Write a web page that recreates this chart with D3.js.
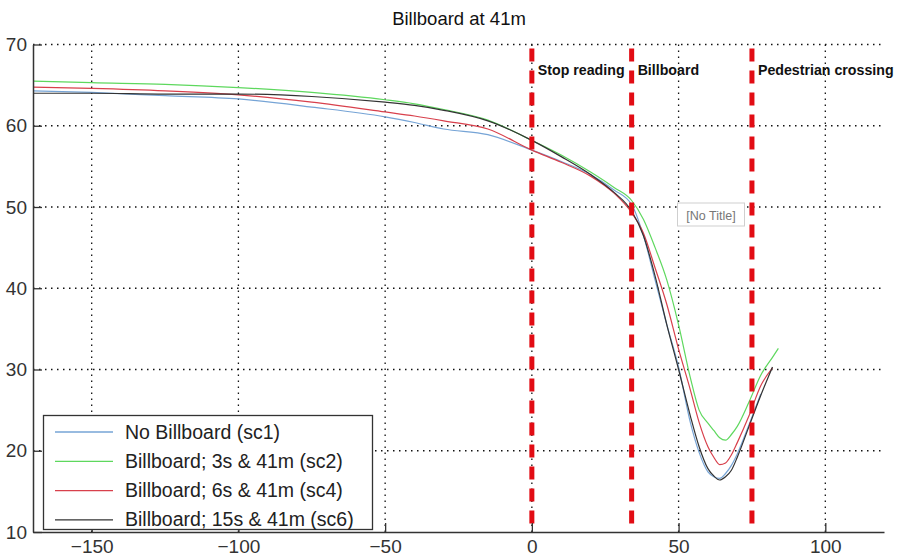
<!DOCTYPE html>
<html>
<head>
<meta charset="utf-8">
<script src="https://cdn.jsdelivr.net/npm/d3@7"></script>
<style>
  html, body { margin: 0; padding: 0; background: #fff; }
  svg { display: block; font-family: "Liberation Sans", Arial, sans-serif; }
</style>
</head>
<body>
<svg id="chart" width="897" height="560"></svg>
<script>
// distance to billboard (m), shared by all series
const distance = [-170, -150, -125, -100, -75, -50, -40, -30, -15, 0, 10, 20, 28, 34, 38, 42, 46, 50, 54, 57, 60, 62, 64, 66, 68, 70, 74, 78, 82, 84];

const sc1 = [64.3, 64.1, 63.7, 63.3, 62.3, 61.1, 60.4, 59.6, 58.9, 57.0, 55.6, 54.0, 52.1, 50.3, 46.5, 41.0, 35.5, 30.3, 23.5, 19.8, 17.4, 16.8, 16.6, 17.2, 18.2, 19.6, 23.2, 27.0, null, null];
const sc2 = [65.5, 65.3, 65.1, 64.7, 64.1, 63.2, 62.7, 62.0, 60.7, 58.2, 56.4, 54.3, 52.4, 50.8, 48.5, 45.0, 41.0, 35.5, 29.0, 25.0, 23.4, 22.5, 21.6, 21.3, 22.0, 23.0, 26.0, 29.3, 31.5, 32.6];
const sc4 = [64.75, 64.6, 64.3, 63.8, 62.9, 61.7, 61.2, 60.6, 59.6, 57.0, 55.5, 53.8, 51.7, 49.3, 46.8, 42.5, 38.0, 32.5, 27.5, 23.5, 20.5, 19.2, 18.3, 18.5, 19.5, 21.0, 24.3, 28.0, 30.2, null];
const sc6 = [64.0, 64.0, 63.9, 63.9, 63.6, 62.9, 62.5, 61.9, 60.6, 58.2, 56.2, 54.0, 51.8, 49.5, 46.5, 41.5, 35.5, 30.0, 24.3, 20.5, 17.8, 16.9, 16.4, 16.8, 17.6, 19.2, 23.0, 26.8, 30.3, null];

const seriesNames = ['No Billboard (sc1)', 'Billboard; 3s & 41m (sc2)', 'Billboard; 6s & 41m (sc4)', 'Billboard; 15s & 41m (sc6)'];
const seriesColors = ['#76a4d6', '#5ed85e', '#d8404c', '#333333'];

const markerX = [0, 34, 75];
const markerLabels = ['Stop reading', 'Billboard', 'Pedestrian crossing'];

const xTicks = [-150, -100, -50, 0, 50, 100];
const yTicks = [10, 20, 30, 40, 50, 60, 70];

const svg = d3.select('#chart');
const x = d3.scaleLinear().domain([-170, 120]).range([33, 884]);
const y = d3.scaleLinear().domain([10, 70]).range([532, 44.5]);

// title
svg.append('text')
  .attr('x', 459).attr('y', 25)
  .attr('text-anchor', 'middle')
  .attr('font-size', 18.5)
  .attr('fill', '#111')
  .text('Billboard at 41m');

// grid (dotted)
const grid = svg.append('g').attr('stroke', '#111').attr('stroke-width', 1.3).attr('stroke-dasharray', '1.5,4.5');
grid.selectAll('line.gx').data(xTicks).enter().append('line')
  .attr('x1', d => x(d)).attr('x2', d => x(d))
  .attr('y1', y(10)).attr('y2', y(70));
grid.selectAll('line.gy').data(yTicks.slice(1)).enter().append('line')
  .attr('x1', x(-170)).attr('x2', x(120))
  .attr('y1', d => y(d)).attr('y2', d => y(d));

// series
const line = d3.line()
  .defined(d => d[1] != null)
  .x(d => x(d[0]))
  .y(d => y(d[1]))
  .curve(d3.curveMonotoneX);

[sc1, sc2, sc4, sc6].forEach((vals, i) => {
  svg.append('path')
    .datum(distance.map((d, j) => [d, vals[j]]))
    .attr('fill', 'none')
    .attr('stroke', seriesColors[i])
    .attr('stroke-width', 1.2)
    .attr('d', line);
});

// red event markers
svg.selectAll('line.marker').data(markerX).enter().append('line')
  .attr('x1', d => x(d)).attr('x2', d => x(d))
  .attr('y1', y(70) + 4).attr('y2', y(10))
  .attr('stroke', '#e20c14')
  .attr('stroke-width', 5)
  .attr('stroke-dasharray', '13,9');

svg.selectAll('text.marker').data(markerX).enter().append('text')
  .attr('x', d => x(d) + 6)
  .attr('y', 75)
  .attr('font-size', 14.2)
  .attr('font-weight', 'bold')
  .attr('fill', '#111')
  .text((d, i) => markerLabels[i]);

// axes
const xAxis = svg.append('g')
  .attr('transform', `translate(0,${y(10)})`)
  .call(d3.axisBottom(x).tickValues(xTicks).tickSize(-9).tickSizeOuter(0).tickPadding(8).tickFormat(d => d < 0 ? '\u2212' + Math.abs(d) : d));
const yAxis = svg.append('g')
  .attr('transform', `translate(${x(-170)},0)`)
  .call(d3.axisLeft(y).tickValues(yTicks).tickSize(-9).tickSizeOuter(0).tickPadding(6));

[xAxis, yAxis].forEach(a => {
  a.select('.domain').attr('stroke', '#333').attr('stroke-width', 1.5);
  a.selectAll('.tick line').attr('stroke', '#333').attr('stroke-width', 1.3);
  a.selectAll('.tick text').attr('font-size', 19).attr('fill', '#333').attr('font-family', '"Liberation Sans", Arial, sans-serif');
});

// "[No Title]" tooltip box
const tip = svg.append('g');
tip.append('rect')
  .attr('x', 677.5).attr('y', 203).attr('width', 67).attr('height', 23)
  .attr('fill', '#fff').attr('stroke', '#cfcfcf');
tip.append('text')
  .attr('x', 711).attr('y', 219.5)
  .attr('text-anchor', 'middle')
  .attr('font-size', 12.5).attr('fill', '#777')
  .text('[No Title]');

// legend
const legend = svg.append('g');
legend.append('rect')
  .attr('x', 43.5).attr('y', 415.5).attr('width', 329).attr('height', 114)
  .attr('fill', '#fff').attr('stroke', '#333').attr('stroke-width', 1.3);
seriesNames.forEach((name, i) => {
  const ly = 432 + i * 29.3;
  legend.append('line')
    .attr('x1', 55).attr('x2', 113).attr('y1', ly).attr('y2', ly)
    .attr('stroke', seriesColors[i]).attr('stroke-width', 1.3);
  legend.append('text')
    .attr('x', 125).attr('y', ly + 6.5)
    .attr('font-size', 19.5).attr('fill', '#222')
    .text(name);
});
</script>
</body>
</html>
